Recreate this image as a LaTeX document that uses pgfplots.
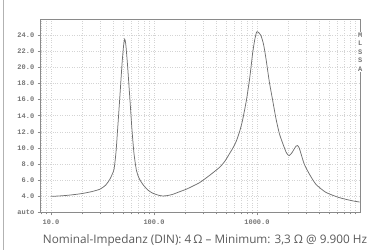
\documentclass[border=0pt]{standalone}
\usepackage{pgfplots}
\pgfplotsset{compat=1.18}
\usepackage{fontspec}
\setmainfont{Open Sans}
\newfontfamily\tickfont{Liberation Mono}
\definecolor{curvecol}{HTML}{707070}
\definecolor{framecol}{HTML}{8A8A8A}
\definecolor{gridcol}{HTML}{D4D4D4}
\definecolor{txtcol}{HTML}{757575}
\definecolor{capcol}{HTML}{5A5A5A}
\begin{document}
\begin{tikzpicture}[x=1bp,y=1bp]
\useasboundingbox (0,0) rectangle (371,250);
\draw[gray!60, line width=0.8bp] (3,0) -- (3,250);
\begin{axis}[
  at={(40.7bp,37.5bp)}, anchor=south west,
  scale only axis, width=319.3bp, height=193.5bp,
  xmode=log, xmin=7.95, xmax=10000, ymin=2, ymax=26,
  axis line style={draw=framecol, line width=0.6bp},
  xtick={10,100,1000}, xticklabels={10.0,100.0,1000.0},
  minor xtick={8,9,20,30,40,50,60,70,80,90,200,300,400,500,600,700,800,900,2000,3000,4000,5000,6000,7000,8000,9000},
  ytick={2,4,6,8,10,12,14,16,18,20,22,24},
  yticklabels={auto,4.0,6.0,8.0,10.0,12.0,14.0,16.0,18.0,20.0,22.0,24.0},
  xtick pos=bottom, ytick pos=left,
  tick align=outside, major tick length=3bp, minor tick length=2bp,
  tick style={draw=framecol, line width=0.5bp},
  grid=both,
  major grid style={dotted, draw=gridcol, line width=0.5bp},
  minor grid style={dotted, draw=gridcol, line width=0.5bp},
  ticklabel style={font=\tickfont\fontsize{7}{7}\selectfont\bfseries, text=txtcol},
  xticklabel style={yshift=-1bp},
]
\addplot[curvecol, line width=0.75bp, smooth, tension=0.4] table {
10 4.0
12 4.05
15 4.15
20 4.35
25 4.6
30 4.9
34 5.4
37.2 6.1
39.5 6.8
41.0 7.4
42.8 9.5
44.3 12.2
46.6 16.3
49.0 20.5
50.8 22.8
52.0 23.5
53.2 22.9
55.2 20.5
58.2 16.3
61.2 12.2
64 9.3
67.6 7.2
72 6.2
77.8 5.5
87 4.8
97 4.4
110 4.15
121 4.05
135 4.1
152 4.25
175 4.55
207 4.9
240 5.3
277 5.7
346 6.6
433 7.6
490 8.4
541 9.3
590 10.1
632 10.9
680 12.1
723 13.4
789 15.9
844 18.4
880 20.3
908 21.8
950 23.4
993 24.4
1040 24.3
1096 23.9
1160 22.8
1225 21.0
1318 18.2
1420 15.9
1531 13.6
1648 11.8
1775 10.6
1914 9.5
2000 9.15
2061 9.06
2180 9.4
2303 9.9
2400 10.25
2479 10.3
2570 10.0
2673 9.3
2877 8.0
3215 6.8
3733 5.5
4667 4.5
6278 3.85
8441 3.45
9900 3.3
};
\end{axis}
\node[fill=white, inner sep=1bp, align=center, font=\tickfont\fontsize{7}{8.5}\selectfont\bfseries, text=txtcol] at (360.3,198) {M\\L\\S\\S\\A};
\node[anchor=base, font=\fontsize{11.8}{12}\selectfont, text=capcol] at (205,6.3) {Nominal-Impedanz (DIN): 4\,Ω – Minimum: 3,3 Ω @ 9.900 Hz};
\end{tikzpicture}
\end{document}
